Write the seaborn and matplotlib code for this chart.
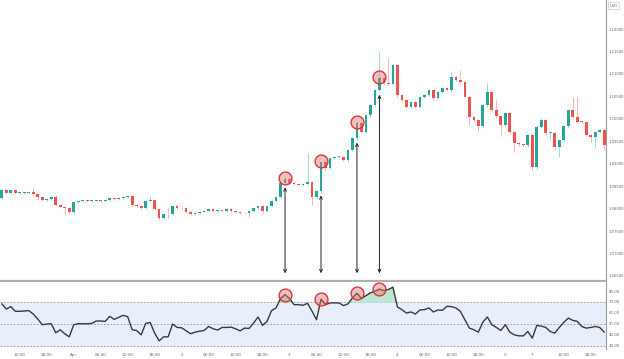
import numpy as np
import pandas as pd
import matplotlib
matplotlib.use("Agg")
import matplotlib.pyplot as plt
import seaborn as sns


# Hourly EUR/USD candles (close prices)
first_open = 1.08233
closes = [
    1.08411, 1.08344, 1.08411, 1.08344, 1.08348, 1.08355, 1.08366, 1.08322, 1.08255, 1.08188,
    1.08210, 1.08255, 1.08077, 1.08032, 1.08021, 1.07928, 1.08144, 1.08166, 1.08170, 1.08168,
    1.08173, 1.08175, 1.08172, 1.08182, 1.08233, 1.08210, 1.08244, 1.08252, 1.08277, 1.08077,
    1.08055, 1.08010, 1.08166, 1.08188, 1.07988, 1.07794, 1.07876, 1.07872, 1.08055, 1.08010,
    1.08006, 1.07928, 1.07876, 1.07905, 1.07928, 1.07943, 1.07988, 1.07943, 1.07946, 1.07941,
    1.07988, 1.07943, 1.07928, 1.07899, 1.07895, 1.07943, 1.08010, 1.08061, 1.07950, 1.08055,
    1.08173, 1.08248, 1.08573, 1.08656, 1.08573, 1.08545, 1.08533, 1.08551, 1.08596, 1.08248,
    1.08395, 1.09041, 1.08901, 1.09124, 1.09153, 1.09146, 1.09079, 1.09302, 1.09569, 1.09903,
    1.09703, 1.10081, 1.10304, 1.10638, 1.10905, 1.10794, 1.10772, 1.11195, 1.10527, 1.10415,
    1.10266, 1.10377, 1.10266, 1.10489, 1.10527, 1.10638, 1.10460, 1.10600, 1.10682, 1.10638,
    1.10934, 1.10861, 1.10823, 1.10489, 1.10043, 1.09970, 1.09836, 1.10304, 1.10600, 1.10193,
    1.10059, 1.09858, 1.10132, 1.09709, 1.09464, 1.09435, 1.09413, 1.09636, 1.08923, 1.09821,
    1.09970, 1.09680, 1.09687, 1.09369, 1.09524, 1.09836, 1.10193, 1.10043, 1.09932, 1.09928,
    1.09636, 1.09585, 1.09709, 1.09747, 1.09413,
]

# wick lengths beyond the body, in pips
upper_wick = [
    2, 2, 1, 2, 2, 1, 2, 11, 2, 2,
    1, 2, 2, 2, 1, 2, 2, 1, 2, 2,
    1, 2, 2, 1, 2, 2, 1, 2, 2, 2,
    2, 2, 3, 11, 2, 2, 1, 13, 2, 2,
    2, 2, 1, 2, 2, 1, 2, 2, 2, 1,
    2, 2, 1, 2, 2, 1, 2, 2, 2, 3,
    2, 2, 3, 7, 2, 2, 1, 2, 64, 2,
    2, 3, 2, 3, 2, 2, 3, 2, 3, 4,
    3, 2, 3, 3, 58, 4, 56, 3, 2, 2,
    3, 2, 3, 2, 2, 3, 2, 3, 2, 2,
    10, 3, 22, 2, 3, 2, 3, 3, 19, 3,
    22, 2, 3, 2, 3, 2, 2, 3, 4, 3,
    4, 3, 2, 3, 2, 3, 3, 29, 44, 3,
    2, 3, 2, 3, 3,
]
lower_wick = [
    2, 2, 2, 2, 1, 2, 2, 2, 7, 2,
    2, 2, 3, 2, 17, 2, 5, 2, 1, 2,
    2, 1, 2, 2, 2, 2, 1, 2, 2, 3,
    2, 3, 2, 2, 3, 5, 2, 9, 2, 2,
    2, 3, 2, 2, 2, 1, 2, 2, 2, 1,
    2, 2, 2, 2, 2, 9, 2, 2, 5, 2,
    2, 3, 2, 2, 2, 2, 2, 2, 3, 17,
    4, 5, 3, 2, 2, 3, 2, 3, 3, 3,
    3, 3, 3, 3, 3, 3, 3, 3, 7, 3,
    3, 3, 3, 2, 3, 2, 3, 2, 2, 2,
    3, 3, 3, 3, 18, 3, 13, 3, 3, 3,
    3, 24, 3, 3, 20, 3, 2, 3, 7, 3,
    3, 3, 15, 7, 22, 3, 3, 3, 3, 3,
    3, 10, 21, 3, 11,
]

# RSI(14) values under each candle
rsi = [
    68.2, 63.5, 65.7, 61.4, 61.4, 61.7, 62.0, 58.9, 54.3, 49.1,
    49.7, 50.0, 41.7, 44.5, 40.8, 38.0, 49.1, 50.0, 50.0, 50.0,
    50.3, 52.5, 52.5, 52.2, 56.8, 54.0, 55.8, 57.7, 56.5, 44.5,
    43.8, 39.8, 50.3, 51.2, 41.4, 34.3, 38.0, 38.0, 49.7, 46.6,
    46.3, 43.5, 40.8, 42.3, 43.2, 43.8, 47.5, 45.4, 44.2, 46.6,
    46.6, 46.9, 45.4, 43.5, 46.0, 45.7, 50.6, 56.2, 48.5, 52.2,
    62.0, 64.5, 73.1, 76.8, 73.1, 67.5, 67.5, 66.9, 68.8, 61.5,
    53.7, 72.5, 67.5, 69.1, 69.1, 69.1, 66.6, 68.2, 73.7, 78.0,
    73.1, 75.8, 78.3, 79.8, 81.7, 80.5, 81.4, 83.5, 65.4, 62.9,
    59.8, 60.8, 58.9, 62.6, 62.9, 64.5, 60.8, 62.6, 62.3, 66.0,
    65.7, 64.5, 61.4, 53.7, 46.0, 44.5, 42.3, 51.5, 56.2, 49.1,
    46.6, 43.8, 49.1, 42.3, 39.8, 38.9, 38.9, 42.9, 36.8, 48.5,
    47.8, 46.6, 42.9, 41.4, 46.6, 51.2, 55.2, 53.1, 52.2, 47.5,
    46.0, 46.6, 47.5, 46.6, 42.3,
]

# candles flagged as overbought signals
signal_idx = [63, 71, 79, 84]

tick_pos = [4, 10, 16, 22, 28, 34, 40, 46, 52, 58, 64, 70, 76, 82, 88, 94, 100, 106, 112, 118, 125, 131]
tick_lbl = ["12:00", "18:00", "Apr", "06:00", "12:00", "18:00", "2", "06:00", "12:00", "18:00", "3",
            "06:00", "12:00", "18:00", "4", "06:00", "12:00", "18:00", "5", "7", "12:00", "18:00"]
price_ticks = [1.065, 1.07, 1.075, 1.08, 1.085, 1.09, 1.095, 1.10, 1.105, 1.11, 1.115, 1.12]
rsi_ticks = [30, 40, 50, 60, 70, 80]

df = pd.DataFrame({"close": closes, "rsi": rsi})
df["open"] = df["close"].shift(1).fillna(first_open)
df["high"] = df[["open", "close"]].max(axis=1) + np.array(upper_wick) * 0.0001
df["low"] = df[["open", "close"]].min(axis=1) - np.array(lower_wick) * 0.0001
df["idx"] = np.arange(len(df))

sns.set_style("white")
plt.rcParams["font.family"] = ["DejaVu Sans"]

up_col = "#26a69a"
dn_col = "#ef5350"

fig = plt.figure(figsize=(6.24, 3.59), dpi=100)
ax = fig.add_axes([0, 0.2173, 0.9712, 0.7827])
ax2 = fig.add_axes([0, 0.028, 0.9712, 0.1866])

# candles
cols = np.where(df["close"] >= df["open"], up_col, dn_col)
body = (df["close"] - df["open"]).abs().clip(lower=0.00018)
bottom = df[["open", "close"]].min(axis=1)
ax.vlines(df["idx"], df["low"], df["high"], colors=cols, lw=0.6, alpha=0.5, zorder=2)
ax.bar(df["idx"], body, bottom=bottom, width=0.6, color=cols, zorder=3, linewidth=0)

# signal circles and arrows
sig = df.loc[signal_idx]
ax.scatter(sig["idx"], sig["close"] + 0.0003, s=85, facecolor=(0.93, 0.45, 0.45, 0.45),
           edgecolor="#d43a3a", lw=1.0, zorder=5)
for _, r in sig.iterrows():
    ax.annotate("", xy=(r["idx"], 1.0656), xytext=(r["idx"], min(r["open"], r["close"]) - 0.0010),
                arrowprops=dict(arrowstyle="<->", lw=0.7, color="#222222", mutation_scale=5,
                                shrinkA=0, shrinkB=0), zorder=4)

ax.set_xlim(-0.4, 134.4)
ax.set_ylim(1.06388, 1.12646)
ax.yaxis.tick_right()
ax.set_yticks(price_ticks)
ax.set_yticklabels([f"{p:.5f}" for p in price_ticks])
ax.set_xticks([])
ax.tick_params(axis="y", length=0, pad=1.5, labelsize=2.7, labelcolor="#666666")
for s in ["top", "left"]:
    ax.spines[s].set_visible(False)
ax.spines["right"].set_color("#9a9a9a")
ax.spines["right"].set_linewidth(0.8)
ax.spines["bottom"].set_color("#b0b0b0")
ax.spines["bottom"].set_linewidth(1.6)

# RSI panel
ax2.axhspan(30, 70, color="#e9eefb", zorder=0)
for lvl in [30, 50, 70]:
    ax2.axhline(lvl, color="#9a9a9a", lw=0.6, ls=(0, (2, 2)), zorder=1)
ax2.fill_between(df["idx"], 70, df["rsi"], where=df["rsi"] > 70, interpolate=True,
                 color="#bfe6d4", zorder=1)
sns.lineplot(data=df, x="idx", y="rsi", ax=ax2, color="#3a3a3a", lw=1.0, zorder=3)
ax2.scatter(sig["idx"], sig["rsi"], s=85, facecolor=(0.93, 0.45, 0.45, 0.45),
            edgecolor="#d43a3a", lw=1.0, zorder=5)

ax2.set_xlim(-0.4, 134.4)
ax2.set_ylim(26.9, 88.3)
ax2.yaxis.tick_right()
ax2.set_yticks(rsi_ticks)
ax2.set_yticklabels([f"{v:.2f}" for v in rsi_ticks])
ax2.set_xticks(tick_pos)
ax2.set_xticklabels(tick_lbl)
ax2.set_xlabel("")
ax2.set_ylabel("")
ax2.tick_params(axis="x", length=0, pad=3, labelsize=3, labelcolor="#666666")
ax2.tick_params(axis="y", length=0, pad=2, labelsize=2.8, labelcolor="#666666")
for s in ["top", "left", "bottom"]:
    ax2.spines[s].set_visible(False)
ax2.spines["right"].set_color("#9a9a9a")
ax2.spines["right"].set_linewidth(0.8)

fig.text(0.983, 0.99, "USD", fontsize=2.7, color="#666666", ha="center", va="top",
         bbox=dict(boxstyle="square,pad=0.3", fc="white", ec="#cccccc", lw=0.5))

fig.savefig("out.png", dpi=100)
